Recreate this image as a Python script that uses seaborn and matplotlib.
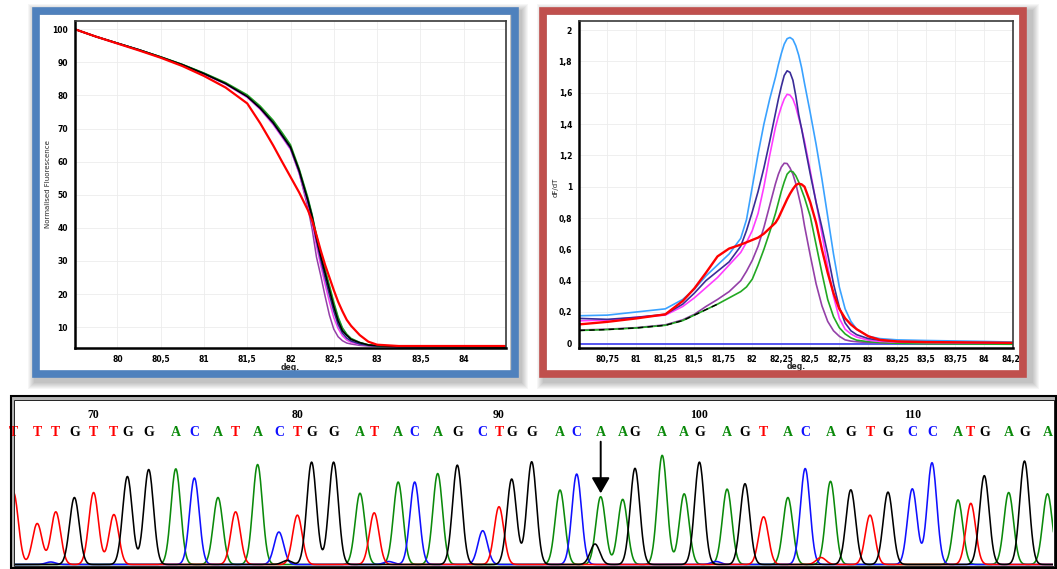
import numpy as np
import pandas as pd
import matplotlib
matplotlib.use("Agg")
import matplotlib.pyplot as plt
from matplotlib.patches import Rectangle
import seaborn as sns

sns.set_style("white")
plt.rcParams["font.family"] = ["DejaVu Sans"]

# ---------------- melt curves: normalised fluorescence vs temperature ----------------
melt_temp = [79.51, 79.75, 80.0, 80.25, 80.5, 80.75, 81.0, 81.25, 81.5, 81.65,
             81.8, 81.9, 82.0, 82.1, 82.2, 82.25, 82.3, 82.35, 82.4, 82.45,
             82.5, 82.55, 82.6, 82.65, 82.7, 82.8, 82.9, 83.0, 83.25, 84.49]
melt_purple = [100, 97.8, 95.7, 93.7, 91.5, 89.2, 86.5, 83.5, 79.6, 76.0,
               71.5, 67.8, 63.9, 56.6, 46.2, 39.6, 31.2, 25.5, 19.3, 13.6,
               9.4, 7.1, 5.9, 5.2, 4.9, 4.5, 4.3, 4.2, 4.1, 4.0]
melt_magenta = [100, 97.8, 95.7, 93.7, 91.5, 89.2, 86.5, 83.4, 79.4, 75.8,
                71.2, 67.5, 63.7, 56.5, 47.4, 41.8, 34.6, 28.6, 22.9, 17.6,
                12.9, 9.6, 7.4, 6.1, 5.4, 4.8, 4.5, 4.3, 4.1, 4.0]
melt_navy = [100, 97.8, 95.8, 93.8, 91.6, 89.3, 86.6, 83.6, 79.7, 76.1,
             71.6, 67.9, 64.1, 57.0, 48.1, 42.7, 36.1, 30.2, 24.8, 19.7,
             14.8, 10.8, 8.2, 6.7, 5.8, 4.9, 4.5, 4.3, 4.1, 4.0]
melt_blue = [100, 97.8, 95.8, 93.8, 91.6, 89.3, 86.7, 83.7, 79.9, 76.4,
             72.0, 68.3, 64.5, 57.5, 48.8, 43.8, 37.5, 31.9, 26.9, 21.9,
             16.9, 12.7, 9.6, 7.7, 6.5, 5.3, 4.6, 4.4, 4.2, 4.0]
melt_green = [100, 97.8, 95.8, 93.8, 91.7, 89.4, 86.8, 83.9, 80.2, 76.8,
              72.5, 68.9, 65.1, 57.9, 49.2, 44.0, 37.8, 32.4, 27.4, 22.6,
              17.6, 13.1, 9.8, 7.9, 6.6, 5.4, 4.7, 4.4, 4.2, 4.0]
melt_black = [100, 97.8, 95.8, 93.8, 91.6, 89.3, 86.6, 83.6, 79.7, 76.2,
              71.8, 68.1, 64.4, 57.3, 48.4, 43.4, 36.9, 31.4, 26.3, 21.2,
              16.2, 11.9, 8.9, 7.5, 6.3, 5.3, 4.6, 4.4, 4.2, 4.0]
melt_red = [100, 97.8, 95.7, 93.6, 91.4, 88.9, 85.9, 82.4, 77.6, 71.6,
            64.9, 60.1, 55.4, 50.7, 45.4, 42.2, 37.8, 33.1, 28.8, 25.0,
            21.2, 17.7, 14.8, 12.2, 10.4, 7.6, 5.6, 4.7, 4.3, 4.3]

melt_xticks = [80, 80.5, 81, 81.5, 82, 82.5, 83, 83.5, 84]
melt_xticklabels = ["80", "80,5", "81", "81,5", "82", "82,5", "83", "83,5", "84"]
melt_yticks = [10, 20, 30, 40, 50, 60, 70, 80, 90, 100]

# ---------------- derivative melt peaks: dF/dT vs temperature ----------------
dfdt_temp = [80.51, 80.75, 81.0, 81.25, 81.4, 81.5, 81.6, 81.7, 81.8, 81.9,
             81.95, 82.0, 82.05, 82.1, 82.15, 82.2, 82.225, 82.25, 82.275, 82.3,
             82.325, 82.35, 82.375, 82.4, 82.425, 82.45, 82.5, 82.55, 82.6, 82.65,
             82.7, 82.75, 82.8, 82.85, 82.9, 83.0, 83.1, 83.25, 83.5, 84.0,
             84.25]
dfdt_lightblue = [0.176, 0.18, 0.20, 0.22, 0.28, 0.345, 0.43, 0.50, 0.57, 0.67,
                  0.79, 1.00, 1.21, 1.40, 1.56, 1.70, 1.78, 1.85, 1.91, 1.945,
                  1.953, 1.94, 1.90, 1.84, 1.76, 1.66, 1.47, 1.27, 1.05, 0.81,
                  0.57, 0.36, 0.22, 0.14, 0.09, 0.045, 0.03, 0.022, 0.018, 0.012,
                  0.008]
dfdt_navy = [0.159, 0.153, 0.166, 0.185, 0.25, 0.32, 0.40, 0.46, 0.52, 0.62,
             0.72, 0.84, 0.97, 1.12, 1.29, 1.47, 1.56, 1.64, 1.71, 1.74,
             1.73, 1.68, 1.58, 1.46, 1.37, 1.27, 1.08, 0.90, 0.74, 0.57,
             0.38, 0.23, 0.13, 0.08, 0.055, 0.03, 0.02, 0.012, 0.008, 0.005,
             0.003]
dfdt_magenta = [0.144, 0.148, 0.166, 0.18, 0.235, 0.29, 0.355, 0.42, 0.50, 0.58,
                0.645, 0.72, 0.83, 1.00, 1.20, 1.38, 1.45, 1.51, 1.56, 1.59,
                1.585, 1.56, 1.51, 1.44, 1.37, 1.29, 1.10, 0.90, 0.70, 0.49,
                0.30, 0.16, 0.09, 0.06, 0.04, 0.02, 0.012, 0.008, 0.005, 0.003,
                0.002]
dfdt_purple = [0.085, 0.09, 0.10, 0.118, 0.15, 0.185, 0.235, 0.28, 0.33, 0.40,
               0.46, 0.53, 0.62, 0.74, 0.88, 1.02, 1.08, 1.125, 1.15, 1.148,
               1.12, 1.08, 1.02, 0.94, 0.86, 0.75, 0.56, 0.38, 0.24, 0.14,
               0.08, 0.045, 0.022, 0.014, 0.01, 0.005, 0.003, 0.002, 0.0, 0.0,
               0.0]
dfdt_green = [0.082, 0.088, 0.098, 0.115, 0.145, 0.18, 0.215, 0.25, 0.29, 0.33,
              0.36, 0.41, 0.50, 0.60, 0.71, 0.83, 0.90, 0.97, 1.03, 1.08,
              1.10, 1.095, 1.07, 1.03, 0.98, 0.93, 0.81, 0.63, 0.45, 0.28,
              0.17, 0.10, 0.06, 0.035, 0.02, 0.01, 0.005, 0.0, -0.003, -0.005,
              -0.006]
dfdt_red = [0.121, 0.137, 0.159, 0.185, 0.27, 0.35, 0.45, 0.555, 0.605, 0.63,
            0.645, 0.66, 0.675, 0.70, 0.735, 0.77, 0.80, 0.84, 0.88, 0.92,
            0.955, 0.985, 1.01, 1.02, 1.015, 1.00, 0.90, 0.77, 0.60, 0.45,
            0.32, 0.22, 0.16, 0.12, 0.09, 0.045, 0.022, 0.012, 0.008, 0.005,
            0.003]
# black trace runs under the green one on the low-temperature side
dfdt_black_temp = [80.51, 80.75, 81.0, 81.25, 81.4, 81.5, 81.6, 81.7]
dfdt_black = [0.082, 0.088, 0.098, 0.115, 0.145, 0.18, 0.215, 0.25]
# no-template control stays flat
dfdt_ntc_temp = [80.51, 84.25]
dfdt_ntc = [-0.004, -0.004]

dfdt_xticks = [80.75, 81, 81.25, 81.5, 81.75, 82, 82.25, 82.5, 82.75,
               83, 83.25, 83.5, 83.75, 84, 84.25]
dfdt_xticklabels = ["80,75", "81", "81,25", "81,5", "81,75", "82", "82,25", "82,5",
                    "82,75", "83", "83,25", "83,5", "83,75", "84", "84,25"]
dfdt_yticks = [0, 0.2, 0.4, 0.6, 0.8, 1.0, 1.2, 1.4, 1.6, 1.8, 2.0]
dfdt_yticklabels = ["0", "0,2", "0,4", "0,6", "0,8", "1", "1,2", "1,4", "1,6", "1,8", "2"]

# ---------------- sequencing chromatogram ----------------
first_base_number = 66
base_calls = "TTTGTTGGACATACTGGATACAGCTGGACAAGAAGAGTACAGTGCCATGAGA"
peak_pos = [13.5, 37.2, 55.8, 74.4, 93.6, 113.9, 127.4, 148.7, 175.8, 194.4,
            218.0, 235.6, 257.6, 278.9, 297.4, 311.6, 333.6, 360.0, 374.2, 398.2,
            414.7, 437.7, 457.3, 482.7, 499.0, 511.7, 531.7, 560.0, 576.7, 600.7,
            622.7, 635.0, 662.2, 684.2, 699.4, 727.1, 745.0, 763.6, 787.9, 805.2,
            830.5, 850.8, 870.0, 888.0, 912.3, 932.0, 958.0, 970.8, 984.3, 1008.7,
            1024.5, 1047.5]
peak_amp = [72, 41, 52.7, 67, 72, 50, 88, 95, 95.7, 86.5,
            67, 52.7, 100, 32.5, 49.4, 102.4, 102.4, 71.3, 51.7, 82.5,
            82.5, 91, 99.4, 33.8, 57.8, 85.5, 102.8, 74.5, 90.5, 67.8,
            65.2, 96.2, 109.2, 70.7, 102.4, 75.4, 80.8, 47.7, 67, 96,
            83.2, 74.7, 49.4, 72.4, 75.7, 101.8, 64.6, 61.2, 88.9, 72,
            103.5, 70.7]
minor_calls = "CGCGCT"
minor_pos = [50.7, 287.0, 388.7, 595.0, 716.0, 821.0]
minor_amp = [2.5, 4.0, 3.0, 20.5, 3.0, 7.0]
variant_number = 95

base_colors = {"A": "#0B8A0B", "C": "#1010FF", "G": "#000000", "T": "#FF0000"}

# ---------------- figure layout (pixel based) ----------------
W, H = 1057, 569
fig = plt.figure(figsize=(W / 100, H / 100), dpi=100)
fig.patch.set_facecolor("white")


def px_axes(x0, y0, x1, y1, **kw):
    return fig.add_axes([x0 / W, 1 - y1 / H, (x1 - x0) / W, (y1 - y0) / H], **kw)


bg = px_axes(0, 0, W, H, zorder=-1)
bg.set_xlim(0, W)
bg.set_ylim(H, 0)
bg.axis("off")


def soft_shadow(ax, x0, y0, x1, y1, dx=3, dy=4, spread=7, alpha=0.035):
    for k in range(spread, 0, -1):
        ax.add_patch(Rectangle((x0 + dx - k, y0 + dy - k), (x1 - x0) + 2 * k,
                               (y1 - y0) + 2 * k, facecolor="black",
                               edgecolor="none", alpha=alpha))


# shadows and white panel interiors
soft_shadow(bg, 31.7, 7.3, 518.3, 378)
soft_shadow(bg, 539, 7.3, 1026.7, 378, dx=5)
bg.add_patch(Rectangle((39, 15), 471, 356, facecolor="white", edgecolor="none"))
bg.add_patch(Rectangle((546.5, 15), 472, 356, facecolor="white", edgecolor="none"))
bg.add_patch(Rectangle((10.5, 395.5), 1046, 174, facecolor="#B5B5B5", edgecolor="none"))
bg.add_patch(Rectangle((13.5, 399.5), 1040, 167, facecolor="white", edgecolor="none"))


def style_melt_axes(ax):
    ax.set_facecolor("white")
    ax.grid(True, color="#ECECEC", linewidth=0.6)
    for side in ("left", "bottom"):
        ax.spines[side].set_color("black")
        ax.spines[side].set_linewidth(1.8)
    for side in ("top", "right"):
        ax.spines[side].set_color("#3A3A3A")
        ax.spines[side].set_linewidth(1.2)
    ax.tick_params(axis="both", labelsize=5.5, length=2, width=0.6, pad=3,
                   colors="black", direction="out")
    for lab in ax.get_xticklabels() + ax.get_yticklabels():
        lab.set_fontweight("bold")


# ---------------- left panel: normalised fluorescence ----------------
ax1 = px_axes(75, 21, 506, 348, zorder=1)
melt_lines = [
    (melt_purple, "#9440A8", 1.1),
    (melt_magenta, "#F040F0", 1.1),
    (melt_navy, "#2B2B90", 1.1),
    (melt_blue, "#2F8FE0", 1.1),
    (melt_green, "#1FA21F", 1.1),
    (melt_black, "#000000", 1.2),
    (melt_red, "#FF0000", 1.6),
]
for values, color, lw in melt_lines:
    df = pd.DataFrame({"temp": melt_temp, "fluor": values})
    sns.lineplot(data=df, x="temp", y="fluor", ax=ax1, color=color,
                 linewidth=lw, estimator=None, sort=False)
ax1.set_xlim(79.51, 84.49)
ax1.set_ylim(3.7, 102.5)
ax1.set_xticks(melt_xticks)
ax1.set_xticklabels(melt_xticklabels)
ax1.set_yticks(melt_yticks)
ax1.set_yticklabels([str(v) for v in melt_yticks])
style_melt_axes(ax1)
ax1.set_xlabel("deg.", fontsize=5.5, fontweight="bold")
ax1.xaxis.set_label_coords(0.5, -0.045)
ax1.set_ylabel("Normalised Fluorescence", fontsize=5)
ax1.yaxis.set_label_coords(-0.056, 0.5)

# ---------------- right panel: derivative peaks ----------------
ax2 = px_axes(579, 20.7, 1013.3, 347.7, zorder=1)
dfdt_lines = [
    (dfdt_ntc_temp, dfdt_ntc, "#4848F0", 1.3, "-"),
    (dfdt_temp, dfdt_purple, "#9440A8", 1.2, "-"),
    (dfdt_temp, dfdt_green, "#22A822", 1.2, "-"),
    (dfdt_black_temp, dfdt_black, "#000000", 1.0, (0, (4, 3))),
    (dfdt_temp, dfdt_magenta, "#FF3CFF", 1.2, "-"),
    (dfdt_temp, dfdt_navy, "#3A2C98", 1.2, "-"),
    (dfdt_temp, dfdt_lightblue, "#3AA2FF", 1.2, "-"),
    (dfdt_temp, dfdt_red, "#FF0000", 1.7, "-"),
]
for temps, values, color, lw, ls in dfdt_lines:
    df = pd.DataFrame({"temp": temps, "dfdt": values})
    sns.lineplot(data=df, x="temp", y="dfdt", ax=ax2, color=color,
                 linewidth=lw, linestyle=ls, estimator=None, sort=False)
ax2.set_xlim(80.506, 84.25)
ax2.set_ylim(-0.028, 2.06)
ax2.set_xticks(dfdt_xticks)
ax2.set_xticklabels(dfdt_xticklabels)
ax2.set_yticks(dfdt_yticks)
ax2.set_yticklabels(dfdt_yticklabels)
style_melt_axes(ax2)
ax2.set_xlabel("deg.", fontsize=5.5, fontweight="bold")
ax2.xaxis.set_label_coords(0.5, -0.045)
ax2.set_ylabel("dF/dT", fontsize=5)
ax2.yaxis.set_label_coords(-0.047, 0.49)

# ---------------- bottom panel: chromatogram ----------------
ax3 = px_axes(14, 400, 1053, 566, zorder=1)
ax3.set_facecolor("white")
scan = np.arange(0.0, 1060.5, 0.5)
SIGMA = 4.8


def channel_trace(base):
    y = np.zeros_like(scan)
    for b, p, a in zip(base_calls, peak_pos, peak_amp):
        if b == base:
            y += a * np.exp(-0.5 * ((scan - p) / SIGMA) ** 2)
    for b, p, a in zip(minor_calls, minor_pos, minor_amp):
        if b == base:
            y += a * np.exp(-0.5 * ((scan - p) / SIGMA) ** 2)
    return y


for base in ["A", "C", "T", "G"]:
    df = pd.DataFrame({"scan": scan, "signal": channel_trace(base)})
    sns.lineplot(data=df, x="scan", y="signal", ax=ax3, color=base_colors[base],
                 linewidth=1.15, estimator=None, sort=False)

ax3.set_xlim(14, 1053)
ax3.set_ylim(-1.5, 164.5)
ax3.axis("off")

for i, (b, p) in enumerate(zip(base_calls, peak_pos)):
    ax3.text(p, 132.5, b, color=base_colors[b], fontsize=10, fontweight="bold",
             family="Liberation Serif", ha="center", va="center")
    number = first_base_number + i
    if number % 10 == 0:
        ax3.text(p, 149.5, str(number), color="black", fontsize=8.5,
                 fontweight="bold", family="Liberation Serif",
                 ha="center", va="center")

vi = variant_number - first_base_number
ax3.annotate("", xy=(peak_pos[vi], peak_amp[vi] + 3.4),
             xytext=(peak_pos[vi], 122.8),
             arrowprops=dict(arrowstyle="-|>,head_length=0.95,head_width=0.55",
                             color="black", lw=1.4, shrinkA=0, shrinkB=0))

# ---------------- panel frames ----------------
fg = px_axes(0, 0, W, H, zorder=5)
fg.set_xlim(0, W)
fg.set_ylim(H, 0)
fg.axis("off")
fg.patch.set_alpha(0)
fg.add_patch(Rectangle((35.5, 11.0), 479.0, 363.2, fill=False,
                       edgecolor="#4F81BD", linewidth=5.5))
fg.add_patch(Rectangle((542.8, 11.0), 480.1, 363.2, fill=False,
                       edgecolor="#C0504D", linewidth=5.5))
fg.add_patch(Rectangle((11.0, 396.0), 1045.0, 172.0, fill=False,
                       edgecolor="black", linewidth=1.5))
fg.add_patch(Rectangle((13.5, 399.5), 1040.0, 166.5, fill=False,
                       edgecolor="#222222", linewidth=0.7))

fig.savefig("out.png", dpi=100, facecolor="white")
